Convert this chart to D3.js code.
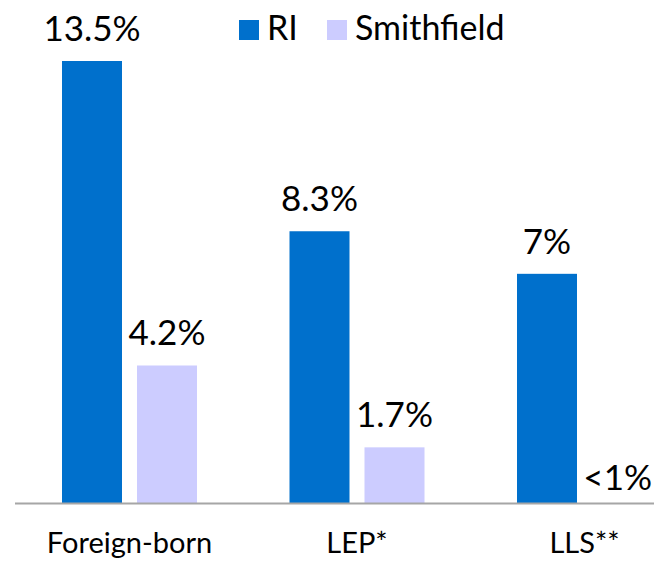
<!DOCTYPE html>
<html>
<head>
<meta charset="utf-8">
<script src="https://cdn.jsdelivr.net/npm/d3@7"></script>
<style>
  body { margin: 0; background: #fff; }
  svg { display: block; }
</style>
</head>
<body>
<script>
var categories = ["Foreign-born", "LEP*", "LLS**"];
var series = ["RI", "Smithfield"];
var riValues = [13.5, 8.3, 7];
var smithValues = [4.2, 1.7, 0];
var riLabels = ["13.5%", "8.3%", "7%"];
var smithLabels = ["4.2%", "1.7%", "<1%"];

var W = 654, H = 561;
var font = "Lato, 'DejaVu Sans', sans-serif";

var svg = d3.select("body").append("svg")
    .attr("width", W)
    .attr("height", H);

// group scale and inner series scale
var x0 = d3.scaleBand()
    .domain(categories)
    .range([15.75, 698.25])
    .paddingInner(0.4066)
    .paddingOuter(0.2033);

var x1 = d3.scaleBand()
    .domain(series)
    .range([0, x0.bandwidth()])
    .paddingInner(0.2);

var y = d3.scaleLinear()
    .domain([0, 13.5])
    .range([503, 61]);

var color = d3.scaleOrdinal()
    .domain(series)
    .range(["#0070cc", "#ccccff"]);

var rows = categories.map(function(c, i) {
    return [
        { cat: c, s: "RI", v: riValues[i], label: riLabels[i] },
        { cat: c, s: "Smithfield", v: smithValues[i], label: smithLabels[i] }
    ];
});
var flat = d3.merge(rows);

// bars
svg.selectAll(".bar")
    .data(flat)
    .enter()
    .append("rect")
    .attr("class", "bar")
    .attr("x", function(d) { return x0(d.cat) + x1(d.s); })
    .attr("y", function(d) { return y(d.v); })
    .attr("width", x1.bandwidth())
    .attr("height", function(d) { return y(0) - y(d.v); })
    .attr("fill", function(d) { return color(d.s); });

// value labels (the last one would run past the edge, so keep it inside)
svg.selectAll(".val")
    .data(flat)
    .enter()
    .append("text")
    .attr("class", "val")
    .attr("x", function(d) {
        var cx = x0(d.cat) + x1(d.s) + x1.bandwidth() / 2;
        return d.v > 0 ? cx : W - 2;
    })
    .attr("y", function(d) { return d.v > 0 ? y(d.v) - 20 : y(0) - 13; })
    .attr("text-anchor", function(d) { return d.v > 0 ? "middle" : "end"; })
    .style("font-family", font)
    .style("font-size", "35px")
    .style("fill", "#000")
    .text(function(d) { return d.label; });

// baseline
svg.append("line")
    .attr("x1", 15)
    .attr("x2", W)
    .attr("y1", y(0) + 0.5)
    .attr("y2", y(0) + 0.5)
    .attr("stroke", "#a6a6a6")
    .attr("stroke-width", 2);

// category labels
svg.selectAll(".cat")
    .data(categories)
    .enter()
    .append("text")
    .attr("class", "cat")
    .attr("x", function(d) { return x0(d) + x0.bandwidth() / 2; })
    .attr("y", 553)
    .attr("text-anchor", "middle")
    .style("font-family", font)
    .style("font-size", "29px")
    .style("fill", "#000")
    .text(function(d) { return d; });

// legend
var legend = svg.selectAll(".legend")
    .data(series)
    .enter()
    .append("g")
    .attr("class", "legend")
    .attr("transform", function(d, i) { return "translate(" + [239, 327][i] + ",20)"; });

legend.append("rect")
    .attr("width", 20)
    .attr("height", 20)
    .attr("fill", function(d) { return color(d); });

legend.append("text")
    .attr("x", 28)
    .attr("y", 20)
    .style("font-family", font)
    .style("font-size", "34px")
    .style("fill", "#000")
    .text(function(d) { return d; });
</script>
</body>
</html>
